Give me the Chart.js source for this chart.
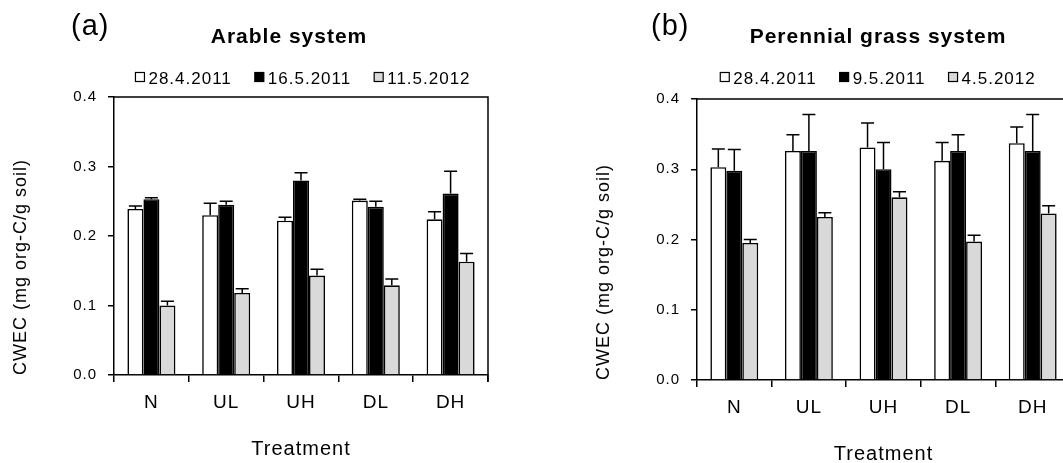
<!DOCTYPE html>
<html>
<head>
<meta charset="utf-8">
<script src="https://cdn.jsdelivr.net/npm/chart.js@4/dist/chart.umd.min.js"></script>
<style>
  html, body { margin: 0; padding: 0; background: #fff; }
  #lienzo { position: relative; width: 1063px; height: 463px; overflow: hidden; }
  .panel { position: absolute; top: 0; }
</style>
</head>
<body>
<div id="lienzo">
  <div class="panel" style="left:0;width:531px;height:463px"><canvas id="graficoA" width="531" height="463"></canvas></div>
  <div class="panel" style="left:531px;width:560px;height:468px"><canvas id="graficoB" width="560" height="468"></canvas></div>
</div>
<script>
// datos (CWEC, mg org-C/g soil)
var tratamientos = ['N', 'UL', 'UH', 'DL', 'DH'];
var yTicks = [0.0, 0.1, 0.2, 0.3, 0.4];

var fechasArable = ['28.4.2011', '16.5.2011', '11.5.2012'];
var arable1 = [0.239, 0.230, 0.222, 0.251, 0.224];
var arable1Err = [0.004, 0.017, 0.005, 0.002, 0.011];
var arable2 = [0.253, 0.245, 0.280, 0.242, 0.261];
var arable2Err = [0.002, 0.005, 0.011, 0.008, 0.032];
var arable3 = [0.100, 0.118, 0.143, 0.129, 0.163];
var arable3Err = [0.006, 0.006, 0.009, 0.009, 0.012];

var fechasPasto = ['28.4.2011', '9.5.2011', '4.5.2012'];
var pasto1 = [0.303, 0.326, 0.331, 0.312, 0.337];
var pasto1Err = [0.026, 0.023, 0.035, 0.026, 0.023];
var pasto2 = [0.298, 0.326, 0.300, 0.326, 0.326];
var pasto2Err = [0.030, 0.052, 0.038, 0.023, 0.052];
var pasto3 = [0.195, 0.232, 0.260, 0.197, 0.237];
var pasto3Err = [0.005, 0.006, 0.008, 0.009, 0.011];

var COLORES = ['#ffffff', '#000000', '#d9d9d9'];

Chart.defaults.font.family = '"Liberation Sans", Arial, sans-serif';
Chart.defaults.color = '#000';

// el original tiene el texto algo espaciado
var espaciado = {
    id: 'espaciado',
    beforeDraw: function (chart) {
        chart.ctx.letterSpacing = '1px';
    }
};

// barras de error (solo hacia arriba)
var barrasError = {
    id: 'barrasError',
    afterDatasetsDraw: function (chart) {
        var ctx = chart.ctx;
        var escalaY = chart.scales.y;
        ctx.save();
        ctx.strokeStyle = '#000';
        ctx.lineWidth = 1.5;
        chart.data.datasets.forEach(function (ds, i) {
            var meta = chart.getDatasetMeta(i);
            meta.data.forEach(function (barra, j) {
                var yTop = escalaY.getPixelForValue(ds.data[j] + ds.errores[j]);
                ctx.beginPath();
                ctx.moveTo(barra.x, barra.y);
                ctx.lineTo(barra.x, yTop);
                ctx.moveTo(barra.x - 6.5, yTop);
                ctx.lineTo(barra.x + 6.5, yTop);
                ctx.stroke();
            });
        });
        ctx.restore();
    }
};

// marco superior y derecho del area
var marco = {
    id: 'marco',
    afterDraw: function (chart) {
        var a = chart.chartArea;
        var ctx = chart.ctx;
        ctx.save();
        ctx.strokeStyle = '#000';
        ctx.lineWidth = 1.5;
        ctx.beginPath();
        ctx.moveTo(a.left, a.top);
        ctx.lineTo(a.right, a.top);
        ctx.lineTo(a.right, a.bottom + 7);
        ctx.stroke();
        ctx.restore();
    }
};

// letra del panel, titulo y leyenda
var cabecera = {
    id: 'cabecera',
    afterDraw: function (chart, args, opts) {
        var ctx = chart.ctx;
        ctx.save();
        ctx.fillStyle = '#000';
        ctx.textBaseline = 'alphabetic';

        ctx.font = '29px "Liberation Sans", Arial, sans-serif';
        ctx.textAlign = 'left';
        ctx.fillText(opts.letra, opts.letraX, 35);

        ctx.font = 'bold 21px "Liberation Sans", Arial, sans-serif';
        ctx.textAlign = 'center';
        ctx.fillText(opts.titulo, opts.tituloX, 43);

        ctx.font = '17px "Liberation Sans", Arial, sans-serif';
        ctx.textAlign = 'left';
        var ds = chart.data.datasets;
        var anchos = [], total = 0;
        for (var i = 0; i < ds.length; i++) {
            anchos[i] = 9 + 4 + ctx.measureText(ds[i].label).width;
            total += anchos[i];
        }
        total += 23 * (ds.length - 1);
        var x = opts.leyendaX - total / 2;
        for (var i = 0; i < ds.length; i++) {
            ctx.fillStyle = ds[i].backgroundColor;
            ctx.fillRect(x, 72.5, 9, 9);
            ctx.strokeStyle = '#000';
            ctx.lineWidth = 1.2;
            ctx.strokeRect(x, 72.5, 9, 9);
            ctx.fillStyle = '#000';
            ctx.fillText(ds[i].label, x + 13, 84);
            x += anchos[i] + 23;
        }
        ctx.restore();
    }
};

function crearDatasets(fechas, series, errores) {
    var datasets = [];
    for (var i = 0; i < series.length; i++) {
        datasets.push({
            label: fechas[i],
            data: series[i],
            errores: errores[i],
            backgroundColor: COLORES[i],
            borderColor: '#000',
            borderWidth: 1.6,
            barPercentage: 1.0,
            categoryPercentage: 0.642
        });
    }
    return datasets;
}

function crearGrafico(id, fechas, series, errores, cab, ajuste) {
    var canvas = document.getElementById(id);
    return new Chart(canvas, {
        type: 'bar',
        data: {
            labels: tratamientos,
            datasets: crearDatasets(fechas, series, errores)
        },
        options: {
            responsive: false,
            animation: false,
            devicePixelRatio: 1,
            layout: { padding: { top: ajuste.top, right: ajuste.right, left: ajuste.left, bottom: 0 } },
            plugins: {
                legend: { display: false },
                tooltip: { enabled: false },
                cabecera: cab
            },
            scales: {
                x: {
                    grid: { offset: true, drawOnChartArea: false, drawTicks: true, tickLength: 7, color: '#000', lineWidth: 1.5 },
                    border: { display: true, color: '#000', width: 1.5 },
                    ticks: { font: { size: 19 }, padding: 9, color: '#000' },
                    title: { display: true, text: 'Treatment', font: { size: 20 }, padding: { top: 0, bottom: 2 }, color: '#000' },
                    afterFit: function (s) { s.height = 88; }
                },
                y: {
                    min: 0,
                    max: 0.4,
                    afterBuildTicks: function (s) {
                        s.ticks = yTicks.map(function (v) { return { value: v }; });
                    },
                    grid: { drawOnChartArea: false, drawTicks: true, tickLength: 6, color: '#000', lineWidth: 1.5 },
                    border: { display: true, color: '#000', width: 1.5 },
                    ticks: {
                        font: { size: 15 },
                        padding: 11,
                        color: '#000',
                        callback: function (v) { return Number(v).toFixed(1); }
                    },
                    title: {
                        display: true,
                        text: 'CWEC (mg org-C/g soil)',
                        align: 'start',
                        font: { size: 18 },
                        padding: { top: 10.7, bottom: 0 },
                        color: '#000'
                    },
                    afterFit: function (s) { s.width = 114; }
                }
            }
        },
        plugins: [espaciado, barrasError, marco, cabecera]
    });
}

crearGrafico('graficoA', fechasArable,
    [arable1, arable2, arable3], [arable1Err, arable2Err, arable3Err],
    { letra: '(a)', letraX: 71, titulo: 'Arable system', tituloX: 289, leyendaX: 303 },
    { top: 97, right: 43, left: 0 });

crearGrafico('graficoB', fechasPasto,
    [pasto1, pasto2, pasto3], [pasto1Err, pasto2Err, pasto3Err],
    { letra: '(b)', letraX: 120, titulo: 'Perennial grass system', tituloX: 347, leyendaX: 347 },
    { top: 99, right: 21, left: 52 });
</script>
</body>
</html>
